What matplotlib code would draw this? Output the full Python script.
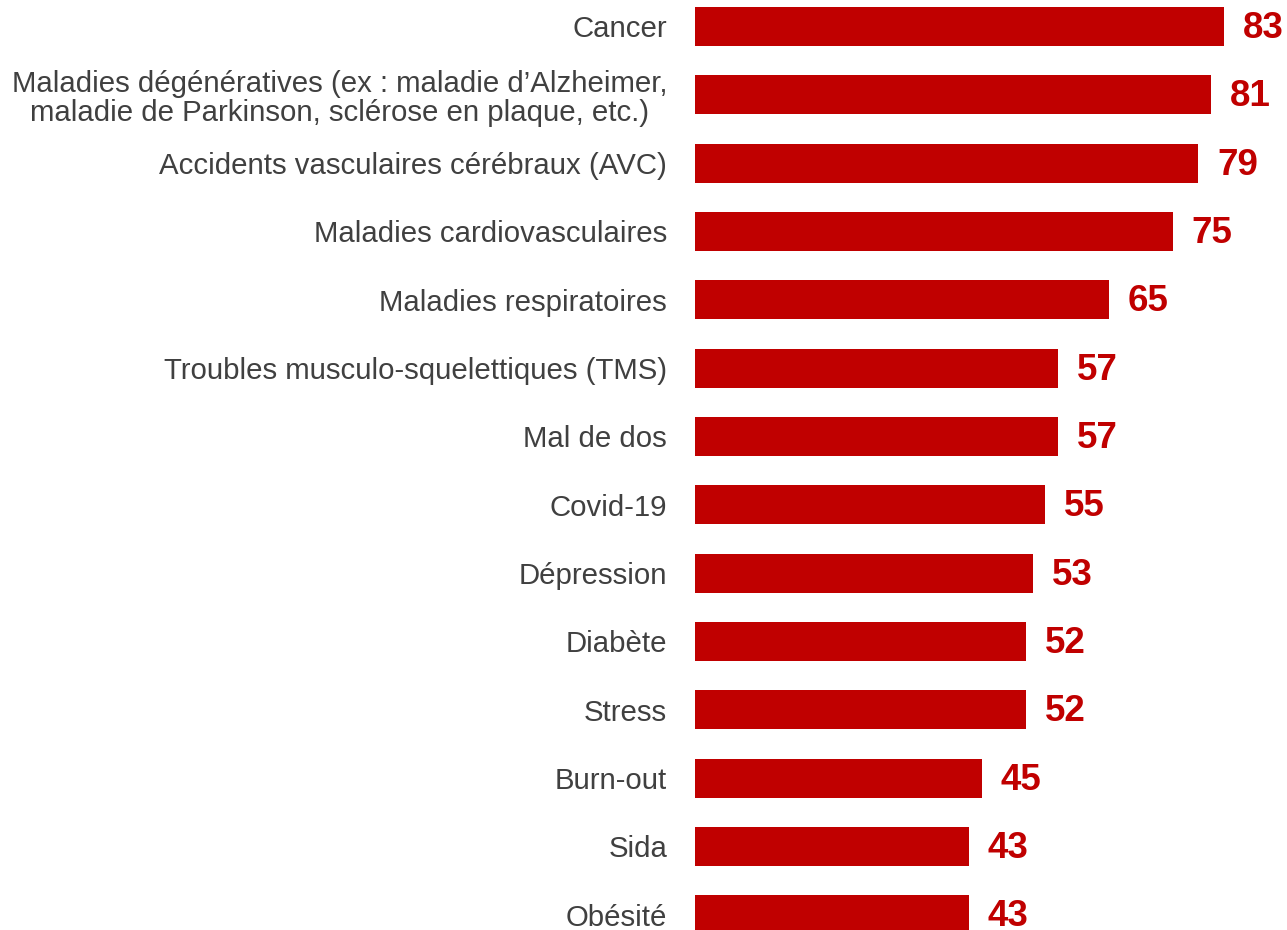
import matplotlib
matplotlib.use("Agg")
import matplotlib.pyplot as plt

plt.rcParams['font.family'] = ['Liberation Sans', 'DejaVu Sans']

categories = [
    "Cancer",
    "Maladies dégénératives (ex : maladie d\u2019Alzheimer,\nmaladie de Parkinson, sclérose en plaque, etc.)",
    "Accidents vasculaires cérébraux (AVC)",
    "Maladies cardiovasculaires",
    "Maladies respiratoires",
    "Troubles musculo-squelettiques (TMS)",
    "Mal de dos",
    "Covid-19",
    "Dépression",
    "Diabète",
    "Stress",
    "Burn-out",
    "Sida",
    "Obésité",
]
values = [83, 81, 79, 75, 65, 57, 57, 55, 53, 52, 52, 45, 43, 43]

red = '#C00000'
grey = '#404040'

fig = plt.figure(figsize=(12.87, 9.3), dpi=100)
ax = fig.add_axes([0.54, -0.0204, 0.46, 1.0287])

ypos = list(range(len(categories)))
ax.barh(ypos, values, height=0.57, color=red)
ax.set_xlim(0, 92.9)
ax.set_ylim(13.5, -0.5)

ax.set_yticks(ypos)
ax.set_yticklabels(categories, fontsize=21.2, color=grey, linespacing=1.05)
for lbl in ax.get_yticklabels():
    lbl.set_multialignment('center')
ax.tick_params(axis='y', length=0, pad=20)
ax.set_xticks([])
for s in ax.spines.values():
    s.set_visible(False)

# value labels right of each bar
for y, v in zip(ypos, values):
    ax.annotate(str(v), (v, y), xytext=(13.5, -1.5), textcoords='offset points',
                ha='left', va='center', fontsize=26.5, fontweight='bold', color=red)

fig.savefig('out.png', dpi=100)
